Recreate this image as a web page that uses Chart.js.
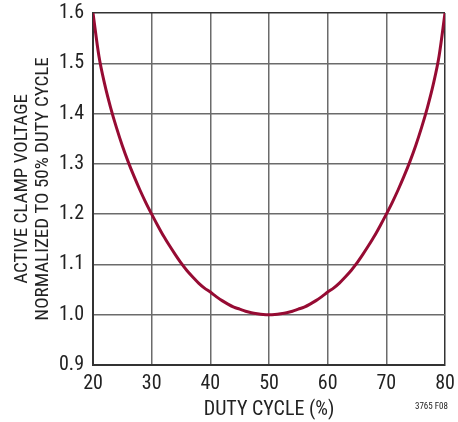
<!DOCTYPE html>
<html>
<head>
<meta charset="utf-8">
<script src="https://cdn.jsdelivr.net/npm/chart.js@4"></script>
<style>
  html, body { margin: 0; padding: 0; background: #fff; }
  #wrap { width: 458px; height: 422px; }
</style>
</head>
<body>
<div id="wrap"><canvas id="clampChart" width="458" height="422"></canvas></div>
<script>
// duty cycle (%), one point per percent
const dutyCycle = [
  20, 21, 22, 23, 24, 25, 26, 27, 28, 29, 30, 31, 32, 33, 34, 35, 36, 37, 38, 39, 40,
  41, 42, 43, 44, 45, 46, 47, 48, 49, 50, 51, 52, 53, 54, 55, 56, 57, 58, 59, 60,
  61, 62, 63, 64, 65, 66, 67, 68, 69, 70, 71, 72, 73, 74, 75, 76, 77, 78, 79, 80
];
// clamp voltage normalized to its value at 50% duty cycle
const clampVoltage = [
  1.600, 1.515, 1.458, 1.412, 1.372, 1.336, 1.304, 1.275, 1.248, 1.223, 1.200,
  1.178, 1.157, 1.138, 1.120, 1.103, 1.088, 1.075, 1.063, 1.053, 1.045,
  1.036, 1.028, 1.021, 1.015, 1.011, 1.007, 1.004, 1.002, 1.0005, 1.000,
  1.0005, 1.002, 1.004, 1.007, 1.011, 1.015, 1.021, 1.028, 1.036, 1.045,
  1.053, 1.063, 1.075, 1.088, 1.103, 1.120, 1.138, 1.157, 1.178, 1.200,
  1.223, 1.248, 1.275, 1.304, 1.336, 1.372, 1.412, 1.458, 1.515, 1.600
];
const xTicks = [20, 30, 40, 50, 60, 70, 80];
const yTicks = [0.9, 1.0, 1.1, 1.2, 1.3, 1.4, 1.5, 1.6];

const FONT = "'Liberation Sans Narrow', 'Arial Narrow', 'Roboto Condensed', Roboto, sans-serif";
const GRID = "#6b6b6b";
const FRAME = "#333333";

const figLabel = {
  id: "figLabel",
  afterDraw(chart) {
    const ctx = chart.ctx;
    ctx.save();
    ctx.font = "9px " + FONT;
    ctx.fillStyle = "#222";
    ctx.textAlign = "right";
    ctx.textBaseline = "middle";
    ctx.fillText("3765 F08", 448, 407);
    ctx.restore();
  }
};

new Chart(document.getElementById("clampChart"), {
  type: "line",
  data: {
    datasets: [{
      data: dutyCycle.map((d, i) => ({ x: d, y: clampVoltage[i] })),
      borderColor: "#960b33",
      borderWidth: 3,
      pointRadius: 0,
      cubicInterpolationMode: "monotone",
      fill: false
    }]
  },
  plugins: [figLabel],
  options: {
    responsive: false,
    animation: false,
    layout: { padding: { left: 0, right: 13, top: 13, bottom: 0 } },
    plugins: { legend: { display: false }, tooltip: { enabled: false } },
    scales: {
      x: {
        type: "linear",
        min: 20, max: 80,
        afterBuildTicks: (s) => { s.ticks = xTicks.map(v => ({ value: v })); },
        afterFit: (s) => { s.height = 57; s.paddingLeft = 0; s.paddingRight = 0; },
        grid: {
          drawTicks: false,
          lineWidth: 1.5,
          color: (c) => (c.tick && (c.tick.value === 20 || c.tick.value === 80)) ? FRAME : GRID
        },
        border: { color: FRAME, width: 2 },
        ticks: { padding: 7, color: "#222", font: { family: FONT, size: 20 } },
        title: {
          display: true, text: "DUTY CYCLE (%)", color: "#222",
          font: { family: FONT, size: 20 }, padding: { top: 0, bottom: 0 }
        }
      },
      y: {
        min: 0.9, max: 1.6,
        afterBuildTicks: (s) => { s.ticks = yTicks.map(v => ({ value: v })); },
        afterFit: (s) => { s.width = 93; s.paddingTop = 0; s.paddingBottom = 0; },
        grid: {
          drawTicks: false,
          lineWidth: 1.5,
          color: (c) => (c.tick && (Math.abs(c.tick.value - 1.6) < 1e-6 || Math.abs(c.tick.value - 0.9) < 1e-6)) ? FRAME : GRID
        },
        border: { color: FRAME, width: 2 },
        ticks: {
          padding: 9, color: "#222", font: { family: FONT, size: 20 },
          callback: (v) => v.toFixed(1)
        },
        title: {
          display: true,
          text: ["ACTIVE CLAMP VOLTAGE", "NORMALIZED TO 50% DUTY CYCLE"],
          color: "#222",
          font: { family: FONT, size: 19, lineHeight: 1.1 },
          padding: { top: 12, bottom: 0 }
        }
      }
    }
  }
});
</script>
</body>
</html>
